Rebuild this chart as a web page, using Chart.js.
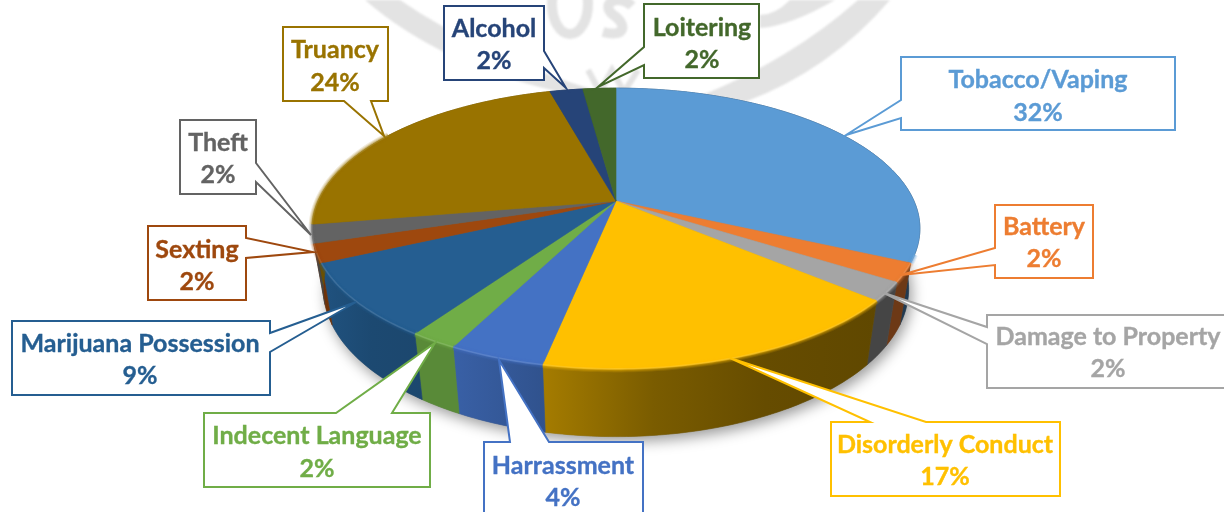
<!DOCTYPE html>
<html><head><meta charset="utf-8">
<style>html,body{margin:0;padding:0;background:#fff}canvas{display:block}#w{width:1224px;height:512px}</style>
<script src="https://cdn.jsdelivr.net/npm/chart.js@4"></script>
</head><body><div id="w"><canvas id="c" width="1224" height="512"></canvas></div>
<script>
const categories=["Tobacco/Vaping","Battery","Damage to Property","Disorderly Conduct","Harrassment","Indecent Language","Marijuana Possession","Sexting","Theft","Truancy","Alcohol","Loitering"];
// slice sizes (incident counts that fit the drawn angles)
const incidents=[15,1,1,8,2,1,4,1,1,11,1,1];
// percentages as printed on the callouts
const percentLabels=[32,2,2,17,4,2,9,2,2,24,2,2];
const colors=["#5B9BD5","#ED7D31","#A5A5A5","#FFC000","#4472C4","#70AD47","#255E91","#9E480E","#636363","#997300","#264478","#43682B"];
// wall brightness stops, left to right across each slice's wall
const wallShade=[[.45,.38],[.46,.46],[.42,.42],[.65,.48,.40,.38],[.85,.72],[.8,.8],[.88,.78,.76],[.7,.7],[.7,.7],[.7,.7],[.7,.7],[.7,.7]];

// callout layout: box x,y,w,h ; tip ; pointer base points ; text centre x, line centres y
const callouts=[
 {b:[901,57,274,73],t:[846,135],p:[[901,100],[901,118]],x:1038,y:[80,113]},
 {b:[995,205,98,73],t:[901,275],p:[[995,248],[995,265]],x:1044,y:[227,259]},
 {b:[987,315,240,73],t:[884,293],p:[[987,327],[987,344]],x:1108,y:[337,369]},
 {b:[831,422,229,74],t:[730,358],p:[[870,422],[926,422]],x:945,y:[445,477]},
 {b:[484,442,159,90],t:[499,360],p:[[510,442],[549,442]],x:563,y:[466,498]},
 {b:[204,413,226,74],t:[435,343],p:[[336,413],[392,413]],x:317,y:[436,469]},
 {b:[12,321,258,74],t:[356,302],p:[[270,333],[270,352]],x:140,y:[344,376]},
 {b:[148,226,98,74],t:[313,252],p:[[246,238],[246,258]],x:197,y:[250,282]},
 {b:[180,120,76,74],t:[311,235],p:[[256,163],[256,182]],x:218,y:[143,175]},
 {b:[283,27,105,74],t:[384,136],p:[[344,101],[371,101]],x:335,y:[50,83]},
 {b:[444,6,100,74],t:[566,88],p:[[544,51],[544,68]],x:494,y:[29,61]},
 {b:[644,4,115,74],t:[598,87],p:[[644,47],[644,65]],x:702,y:[28,60]}
];
const top3D={ax:616,ay:201,A:298,B:135,d:.196};
const bot3D={ax:616,ay:260,A:287,B:142,d:.196};
function proj(g,a){ // a: Chart.js angle (0 = 3 o'clock, clockwise)
  const u=Math.cos(a),v=-Math.sin(a),w=1+g.d*v;
  return [g.ax+g.A*u/w,g.ay-g.B*v/w];
}
function rim(ctx,g,a0,a1,move){
  const n=Math.max(2,Math.ceil(Math.abs(a1-a0)*60));
  for(let i=0;i<=n;i++){const p=proj(g,a0+(a1-a0)*i/n);
    if(i===0&&move)ctx.moveTo(p[0],p[1]);else ctx.lineTo(p[0],p[1]);}
}
function shade(hex,m){const n=parseInt(hex.slice(1),16);
  return `rgb(${(n>>16&255)*m|0},${(n>>8&255)*m|0},${(n&255)*m|0})`;}
function lighten(hex,m){const n=parseInt(hex.slice(1),16);const f=c=>Math.min(255,c+(255-c)*m)|0;
  return `rgb(${f(n>>16&255)},${f(n>>8&255)},${f(n&255)})`;}

// Slices are drawn by the library's arc element, from its own angles, in 3D projection
Chart.ArcElement.prototype.draw=function(ctx){
  const s=this.startAngle,e=this.endAngle;
  ctx.save();
  ctx.beginPath();ctx.moveTo(top3D.ax,top3D.ay);rim(ctx,top3D,s,e,false);ctx.closePath();
  ctx.fillStyle=this.options.backgroundColor;ctx.fill();
  ctx.strokeStyle=this.options.backgroundColor;ctx.lineWidth=.6;ctx.stroke();
  ctx.restore();
};
function watermark(ctx){
  ctx.save();
  ctx.fillStyle='#e3e3e3';ctx.strokeStyle='#e3e3e3';
  ctx.filter='blur(.8px)';
  // left swoosh
  ctx.beginPath();ctx.moveTo(365,0);ctx.quadraticCurveTo(440,65,560,92);ctx.lineTo(600,92);
  ctx.quadraticCurveTo(480,55,400,0);ctx.closePath();ctx.fill();
  // right swoosh
  ctx.beginPath();ctx.moveTo(890,0);ctx.quadraticCurveTo(830,70,745,102);ctx.lineTo(700,96);
  ctx.quadraticCurveTo(790,60,858,0);ctx.closePath();ctx.fill();
  ctx.beginPath();ctx.moveTo(760,28);ctx.quadraticCurveTo(790,26,835,0);ctx.lineTo(790,0);ctx.quadraticCurveTo(775,15,760,15);ctx.closePath();ctx.fill();
  // seal lettering fragments
  ctx.lineWidth=10;
  ctx.beginPath();ctx.ellipse(570,4,18,30,0,0,Math.PI*2);ctx.stroke();
  ctx.beginPath();ctx.moveTo(632,6);ctx.bezierCurveTo(620,-6,600,2,612,14);ctx.bezierCurveTo(628,24,626,38,603,32);ctx.stroke();
  ctx.lineWidth=6;
  ctx.beginPath();ctx.moveTo(588,70);ctx.lineTo(600,92);ctx.lineTo(612,70);ctx.lineTo(624,92);ctx.lineTo(638,70);ctx.stroke();
  ctx.restore();
}
const pie3D={id:'pie3D',
 beforeDatasetsDraw(chart){
  const ctx=chart.ctx,arcs=chart.getDatasetMeta(0).data;
  watermark(ctx);
  // soft ground shadow
  ctx.save();ctx.shadowColor='rgba(0,0,0,.4)';ctx.shadowBlur=14;ctx.shadowOffsetY=5;ctx.shadowOffsetX=3;
  ctx.fillStyle='#777';ctx.beginPath();rim(ctx,bot3D,0,Math.PI*2,true);ctx.closePath();ctx.fill();ctx.restore();
  // side walls
  arcs.forEach((arc,i)=>{
    const s=arc.startAngle,e=arc.endAngle;
    const xs=[proj(top3D,s),proj(top3D,e),proj(bot3D,s),proj(bot3D,e)].map(q=>q[0]);
    const x0=Math.min(...xs),x1=Math.max(...xs);
    const g=ctx.createLinearGradient(x0,0,x1+.01,0);
    const st=wallShade[i];
    st.forEach((m,k)=>g.addColorStop(k/(st.length-1),shade(colors[i],m)));
    ctx.fillStyle=g;ctx.strokeStyle=g;ctx.lineWidth=.6;
    ctx.beginPath();rim(ctx,top3D,s,e,true);rim(ctx,bot3D,e,s,false);ctx.closePath();ctx.fill();ctx.stroke();
  });
 },
 afterDatasetsDraw(chart){
  const ctx=chart.ctx,arcs=chart.getDatasetMeta(0).data;
  // bevel along the front rim
  arcs.forEach((arc,i)=>{
    const s=Math.max(arc.startAngle,Math.PI*.12),e=Math.min(arc.endAngle,Math.PI*1.18);
    if(e<=s)return;
    ctx.save();ctx.lineCap='butt';
    [[7,.14],[5,.2],[3,.3]].forEach(([w,al])=>{
      ctx.globalAlpha=al;ctx.lineWidth=w;ctx.strokeStyle=colors[i];
      ctx.beginPath();rim(ctx,top3D,s,e,true);ctx.stroke();});
    ctx.globalAlpha=.45;ctx.lineWidth=1.6;ctx.strokeStyle=lighten(colors[i],.25);
    ctx.beginPath();rim(ctx,top3D,s,e,true);ctx.stroke();
    ctx.restore();
  });
  // callouts
  ctx.save();ctx.textAlign='center';ctx.textBaseline='middle';
  ctx.font='bold 25px Lato, "Open Sans", sans-serif';
  callouts.forEach((c,i)=>{
    const [x,y,w,h]=c.b,[a,b]=c.p,t=c.t;
    ctx.beginPath();ctx.moveTo(x,y);
    if(a[1]===y+h){ctx.lineTo(x+w,y);ctx.lineTo(x+w,y+h);ctx.lineTo(b[0],b[1]);ctx.lineTo(t[0],t[1]);ctx.lineTo(a[0],a[1]);ctx.lineTo(x,y+h);}
    else if(a[0]===x){ctx.lineTo(x+w,y);ctx.lineTo(x+w,y+h);ctx.lineTo(x,y+h);ctx.lineTo(b[0],b[1]);ctx.lineTo(t[0],t[1]);ctx.lineTo(a[0],a[1]);}
    else if(a[1]===y){ctx.lineTo(a[0],a[1]);ctx.lineTo(t[0],t[1]);ctx.lineTo(b[0],b[1]);ctx.lineTo(x+w,y);ctx.lineTo(x+w,y+h);ctx.lineTo(x,y+h);}
    else{ctx.lineTo(x+w,y);ctx.lineTo(a[0],a[1]);ctx.lineTo(t[0],t[1]);ctx.lineTo(b[0],b[1]);ctx.lineTo(x+w,y+h);ctx.lineTo(x,y+h);}
    ctx.closePath();
    ctx.fillStyle='#fff';ctx.fill();
    ctx.strokeStyle=colors[i];ctx.lineWidth=2;ctx.lineJoin='miter';ctx.stroke();
    ctx.fillStyle=colors[i];ctx.lineWidth=.35;
    [categories[i],percentLabels[i]+'%'].forEach((txt,k)=>{
      ctx.fillText(txt,c.x,c.y[k]);ctx.strokeText(txt,c.x,c.y[k]);
    });
  });
  ctx.restore();
 }
};
new Chart(document.getElementById('c'),{
 type:'pie',
 data:{labels:categories,datasets:[{data:incidents,backgroundColor:colors,borderWidth:0}]},
 options:{responsive:false,animation:false,events:[],
  plugins:{legend:{display:false},tooltip:{enabled:false}}},
 plugins:[pie3D]
});
</script></body></html>
